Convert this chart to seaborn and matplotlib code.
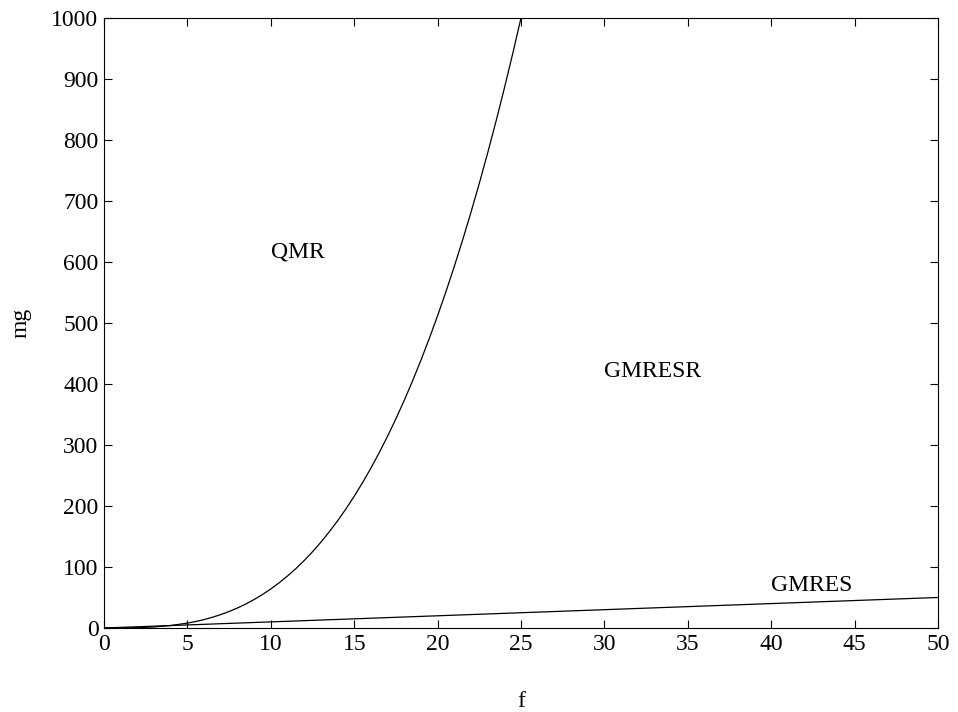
import pandas as pd
import matplotlib.pyplot as plt
import seaborn as sns

# values
f_qmr = [0, 1, 2, 3, 4, 5, 5.5, 6, 6.5, 7, 7.5, 8, 8.5, 9, 9.5, 10, 10.5,
         11, 11.5, 12, 12.5, 13, 13.5, 14, 14.5, 15, 15.5, 16, 16.5, 17,
         17.5, 18, 18.5, 19, 19.5, 20, 20.5, 21, 21.5, 22, 22.5, 23, 23.5,
         24, 24.5, 25]
mg_qmr = [0, 0.06, 0.5, 1.7, 4.1, 8, 10.6, 13.8, 17.6, 22, 27, 32.8, 39.3,
          46.7, 54.9, 64, 74.1, 85.2, 97.3, 110.6, 125, 140.6, 157.5, 175.6,
          195.1, 216, 238.3, 262.1, 287.5, 314.4, 343, 373.2, 405.2, 439,
          474.6, 512, 551.4, 592.7, 636.1, 681.5, 729, 778.7, 830.6, 884.7,
          941.2, 1000]
f_gmres = [0, 50]
mg_gmres = [0, 50]

labels = ["QMR", "GMRESR", "GMRES"]
label_f = [10, 30, 40]
label_mg = [617, 421, 69]

sns.set_style("white")
plt.rcParams['font.family'] = ['Liberation Serif', 'DejaVu Serif']
plt.rcParams['text.color'] = 'black'
plt.rcParams['axes.labelcolor'] = 'black'
plt.rcParams['xtick.color'] = 'black'
plt.rcParams['ytick.color'] = 'black'

fig = plt.figure(figsize=(9.58, 7.12), dpi=100)
ax = fig.add_axes([0.1086, 0.118, 0.8706, 0.857])

df1 = pd.DataFrame({"f": f_qmr, "mg": mg_qmr})
df2 = pd.DataFrame({"f": f_gmres, "mg": mg_gmres})
sns.lineplot(data=df1, x="f", y="mg", ax=ax, color="black", linewidth=0.9)
sns.lineplot(data=df2, x="f", y="mg", ax=ax, color="black", linewidth=0.9)

for t, x, y in zip(labels, label_f, label_mg):
    ax.text(x, y, t, fontsize=17, va="center", ha="left", color="black")

ax.set_xlim(0, 50)
ax.set_ylim(0, 1000)
ax.set_xticks(range(0, 51, 5))
ax.set_yticks(range(0, 1001, 100))
ax.tick_params(direction="in", length=6, width=0.8, labelsize=17,
               top=True, right=True, bottom=True, left=True, pad=4)
for s in ax.spines.values():
    s.set_color("black")
    s.set_linewidth(0.8)
ax.set_xlabel("f", fontsize=17, labelpad=26)
ax.set_ylabel("mg", fontsize=17, labelpad=14)

fig.savefig("out.png", dpi=100)
